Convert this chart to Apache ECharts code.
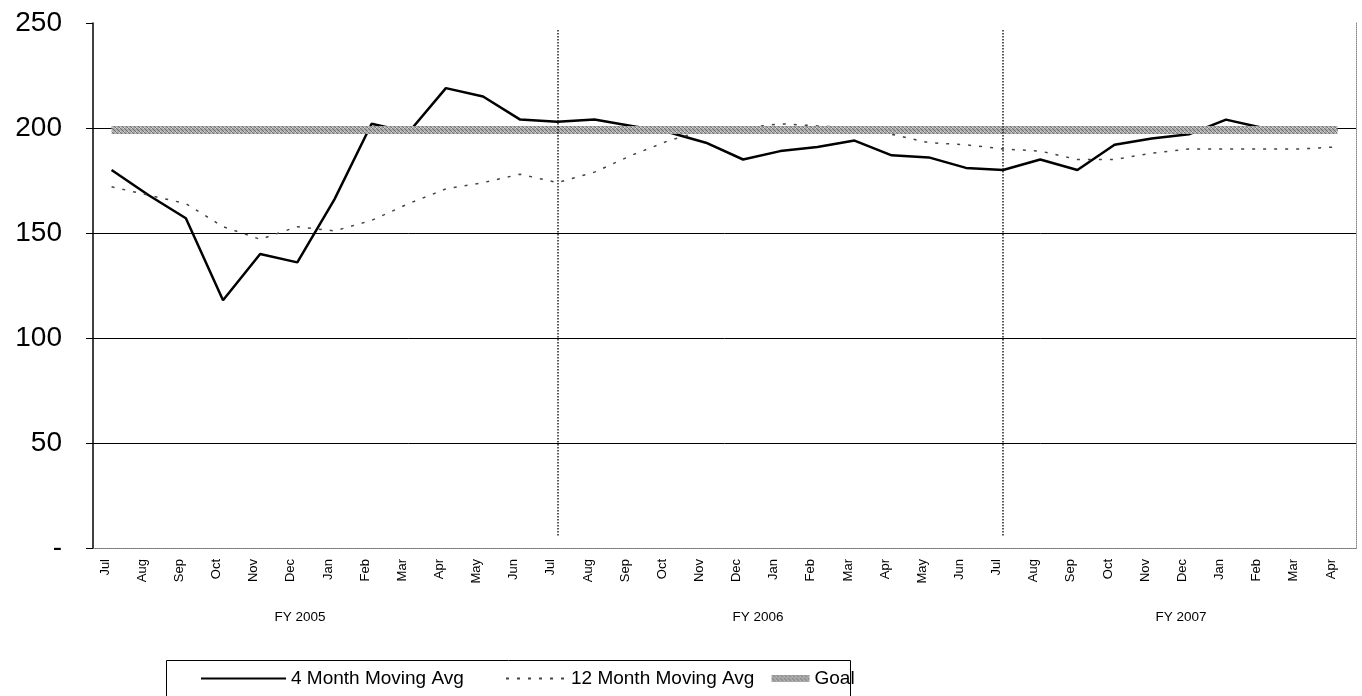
<!DOCTYPE html>
<html><head><meta charset="utf-8">
<script src="https://cdn.jsdelivr.net/npm/echarts@6/dist/echarts.min.js"></script>
<style>html,body{margin:0;padding:0;background:#fff}#c{width:1362px;height:696px}</style>
</head><body><div id="c"></div>
<script>
const months = ['Jul','Aug','Sep','Oct','Nov','Dec','Jan','Feb','Mar','Apr','May','Jun',
                'Jul','Aug','Sep','Oct','Nov','Dec','Jan','Feb','Mar','Apr','May','Jun',
                'Jul','Aug','Sep','Oct','Nov','Dec','Jan','Feb','Mar','Apr'];
const fiscalYears = ['FY 2005','FY 2006','FY 2007'];
const fyLabelX = [300, 758, 1181];
const avg4 = [180,168,157,118,140,136,166,202,198,219,215,204,
              203,204,201,198,193,185,189,191,194,187,186,181,
              180,185,180,192,195,197,204,200,198,199];
const avg12 = [172,168,164,153,147,153,151,156,164,171,174,178,
               174,179,187,194,199,200,202,201,200,197,193,192,
               190,189,185,185,188,190,190,190,190,191];
const goal = [199,199,199,199,199,199,199,199,199,199,199,199,
              199,199,199,199,199,199,199,199,199,199,199,199,
              199,199,199,199,199,199,199,199,199,199];
const yMin = 0, yMax = 250, yStep = 50;
const fyStartIdx = [12, 24];
const seriesNames = ['4 Month Moving Avg', '12 Month Moving Avg', 'Goal'];

// crosshatch texture for the goal band
const pc = document.createElement('canvas');
pc.width = 4; pc.height = 4;
const g = pc.getContext('2d');
g.fillStyle = '#aaaaaa'; g.fillRect(0, 0, 4, 4);
g.fillStyle = '#707070';
g.fillRect(0, 0, 1, 1); g.fillRect(1, 1, 1, 1); g.fillRect(2, 2, 1, 1); g.fillRect(3, 3, 1, 1);
g.fillStyle = '#d4d4d4';
g.fillRect(3, 0, 1, 1); g.fillRect(0, 3, 1, 1);
const goalPattern = {image: pc, repeat: 'repeat'};

const chart = echarts.init(document.getElementById('c'));
const font = 'Liberation Sans, Arial, sans-serif';
const legendBase = {
  top: 669, orient: 'horizontal', padding: 0, itemHeight: 10,
  itemStyle: {opacity: 0},
  textStyle: {fontSize: 19, fontFamily: font, color: '#000'}
};
chart.setOption({
  animation: false,
  backgroundColor: '#fff',
  grid: {left: 93, right: 6, top: 23, bottom: 148, containLabel: false},
  xAxis: [{
    type: 'category', data: months, boundaryGap: true,
    axisLine: {show: true, lineStyle: {color: '#888', type: 'dotted', width: 1}},
    axisTick: {show: false},
    axisLabel: {rotate: 90, fontSize: 13, fontFamily: font, color: '#000', margin: 11, interval: 0,
      verticalAlign: 'bottom'}
  }, {
    type: 'category', data: months, position: 'top',
    axisLine: {show: true, lineStyle: {color: '#777', type: 'dotted', width: 1}},
    axisTick: {show: false}, axisLabel: {show: false}
  }],
  yAxis: [{
    type: 'value', min: yMin, max: yMax, interval: yStep,
    axisLine: {show: true, lineStyle: {color: '#000', width: 1.5}},
    axisTick: {show: true, length: 7, lineStyle: {color: '#000'}},
    axisLabel: {fontSize: 28, fontFamily: font, color: '#000', margin: 31,
      formatter: v => v === 0 ? '-' : String(v)},
    splitLine: {show: true, showMinLine: false, showMaxLine: false, lineStyle: {color: '#000', width: 1}}
  }, {
    type: 'value', min: yMin, max: yMax, interval: yStep, position: 'right',
    axisLine: {show: true, lineStyle: {color: '#888', type: 'dotted', width: 1}},
    axisTick: {show: false}, axisLabel: {show: false}, splitLine: {show: false}
  }],
  legend: [
    Object.assign({}, legendBase, {left: 200, itemWidth: 85, data: [seriesNames[0]]}),
    Object.assign({}, legendBase, {left: 505, itemWidth: 60, data: [seriesNames[1]]}),
    Object.assign({}, legendBase, {left: 768, itemWidth: 38, data: [seriesNames[2]],
      lineStyle: {width: 7}})
  ],
  graphic: [{
    type: 'rect', shape: {x: 166.5, y: 660.5, width: 684, height: 50},
    style: {fill: 'none', stroke: '#000', lineWidth: 1}, silent: true
  }].concat(fiscalYears.map((t, i) => ({
    type: 'text', x: fyLabelX[i], y: 617,
    style: {text: t, fontSize: 13.5, fontFamily: font, fill: '#000', align: 'center', verticalAlign: 'middle'}
  }))),
  series: [{
    name: seriesNames[0], type: 'line', data: avg4, symbol: 'none',
    lineStyle: {color: '#000', width: 2.5}, itemStyle: {color: '#000'}, z: 2,
    markLine: {
      symbol: 'none', silent: true, label: {show: false},
      lineStyle: {type: 'dotted', color: '#222', width: 1.5},
      data: fyStartIdx.map(i => [{coord: [i, 6]}, {coord: [i, 247]}])
    }
  }, {
    name: seriesNames[1], type: 'line', data: avg12, symbol: 'none',
    lineStyle: {color: '#444', width: 1.5, type: [3, 8]}, itemStyle: {color: '#444'}, z: 3
  }, {
    name: seriesNames[2], type: 'line', data: goal, symbol: 'none',
    lineStyle: {color: goalPattern, width: 8}, itemStyle: {color: '#a0a0a0'}, z: 4
  }]
});
</script></body></html>
